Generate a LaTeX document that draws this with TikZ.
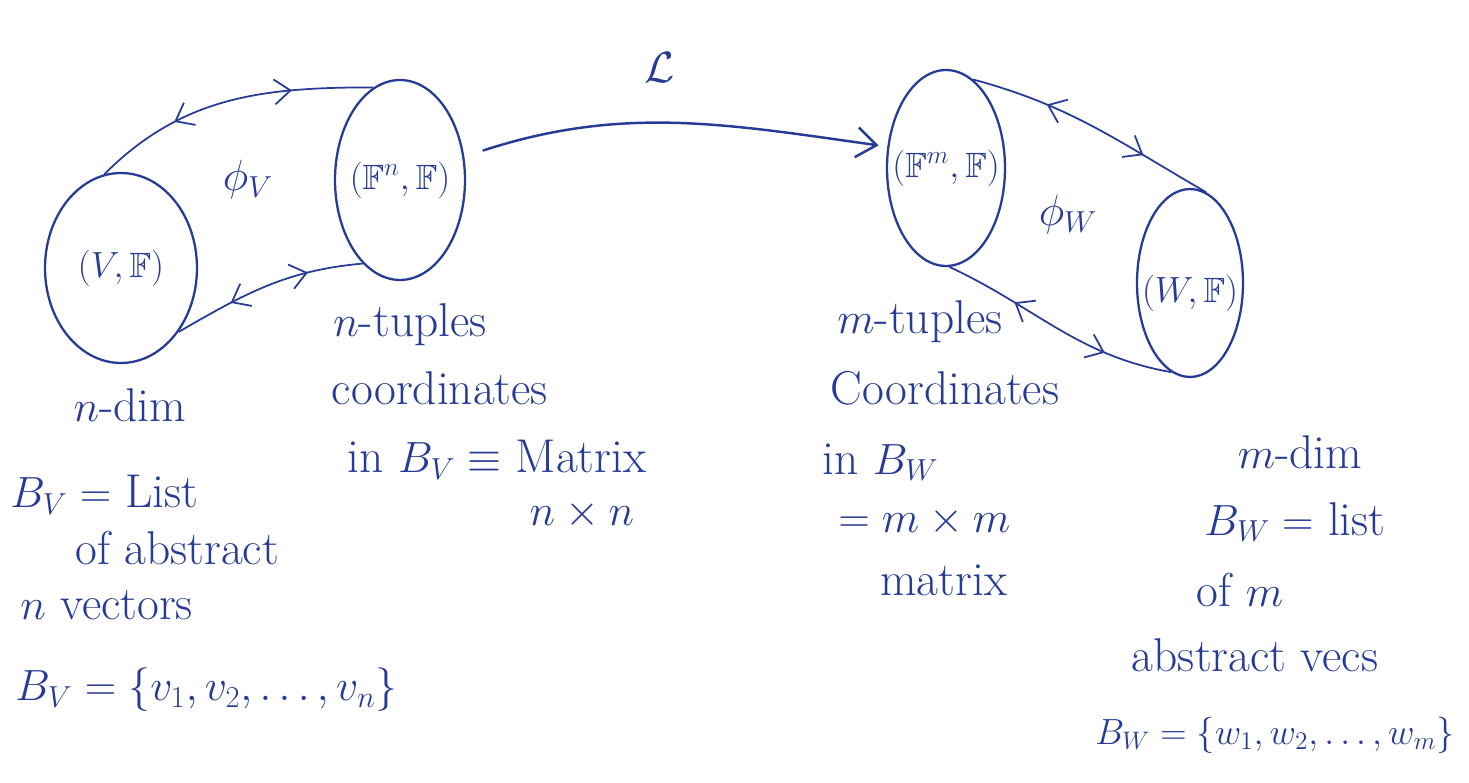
\documentclass[tikz,border=0pt]{standalone}
\usepackage{amssymb}
\usetikzlibrary{arrows.meta,shapes.geometric,decorations.markings}
\definecolor{ink}{RGB}{38,58,150}
\newcommand{\handsize}{\fontsize{27}{31}\selectfont}
\newcommand{\innersize}{\fontsize{20}{24}\selectfont}
\newcommand{\setsize}{\fontsize{22}{26}\selectfont}
\tikzset{
  space/.style={draw=ink,ellipse,line width=1.3pt,inner sep=0pt},
  lbl/.style={text=ink,font=\handsize,inner sep=0pt},
  inlbl/.style={text=ink,font=\innersize,inner sep=0pt},
  lbll/.style={lbl,anchor=west},
  twoway/.style={draw=ink,line width=1pt,postaction={decorate},
    decoration={markings,
      mark=at position 0.3 with {\arrowreversed{Straight Barb[length=3.2mm,width=5mm,line width=1pt]}},
      mark=at position 0.72 with {\arrow{Straight Barb[length=3.2mm,width=5mm,line width=1pt]}}}},
  mainarrow/.style={draw=ink,line width=1.4pt,-{Straight Barb[length=4mm,width=6mm,line width=1.4pt]}}
}
\begin{document}
\begin{tikzpicture}[x=0.02cm,y=-0.02cm]
\useasboundingbox (0,0) rectangle (1469,783);
% spaces
\node[space,minimum width=3.04cm,minimum height=3.8cm] (V) at (121,268) {};
\node[space,minimum width=2.6cm,minimum height=4.0cm] (Fn) at (400,180) {};
\node[space,minimum width=2.36cm,minimum height=3.92cm] (Fm) at (946,168) {};
\node[space,minimum width=2.12cm,minimum height=3.76cm] (W) at (1190,283) {};
\node[inlbl] (Vt) at (V) {$(V,\mathbb{F})$};
\node[inlbl] (Fnt) at (Fn) {$(\mathbb{F}^n,\mathbb{F})$};
\node[inlbl] (Fmt) at (Fm) {$(\mathbb{F}^m,\mathbb{F})$};
\node[inlbl] (Wt) at ([yshift=-6pt]W.center) {$(W,\mathbb{F})$};
% two-way connectors
\draw[twoway] (V.100) to[out=45,in=180] (Fn.106);
\draw[twoway] (V.-48) to[out=30,in=185] (Fn.246);
\draw[twoway] (Fm.73) to[out=-15,in=150] (W.80);
\draw[twoway] (Fm.-88) to[out=-25,in=170] (W.258);
% main map
\draw[mainarrow,shorten <=11pt,shorten >=5pt] (Fn.20) to[out=18,in=172] (Fm.160);
\node[lbl] (L) at (660,68) {$\mathcal{L}$};
% map labels
\node[lbl] (phiV) at (248,180) {$\phi_V$};
\node[lbl] (phiW) at (1068,215) {$\phi_W$};
% left texts
\node[lbl] (ndim) at (130,405) {$n$-dim};
\node[lbll] (bv1) at (10,495) {$B_V =$ List};
\node[lbll] (bv2) at (75,548) {of abstract};
\node[lbll] (bv3) at (20,605) {$n$ vectors};
\node[lbll] (bv4) at (15,690) {$B_V = \{v_1, v_2, \dots, v_n\}$};
% middle-left texts
\node[lbl] (nt1) at (410,325) {$n$-tuples};
\node[lbl] (nt2) at (440,388) {coordinates};
\node[lbl] (nt3) at (497,460) {in $B_V \equiv$ Matrix};
\node[lbl] (nt4) at (582,515) {$n\times n$};
% middle-right texts
\node[lbl] (mt1) at (920,322) {$m$-tuples};
\node[lbl] (mt2) at (945,388) {Coordinates};
\node[lbll] (mt3) at (822,462) {in $B_W$};
\node[lbll] (mt4) at (838,522) {$=m\times m$};
\node[lbll] (mt5) at (880,580) {matrix};
% right texts
\node[lbl] (mdim) at (1300,452) {$m$-dim};
\node[lbl] (bw1) at (1295,522) {$B_W =$ list};
\node[lbl] (bw2) at (1240,590) {of $m$};
\node[lbl] (bw3) at (1255,655) {abstract vecs};
\node[lbl,font=\setsize,anchor=west] (bw4) at (1095,735) {$B_W = \{w_1, w_2, \dots, w_m\}$};
\end{tikzpicture}
\end{document}
